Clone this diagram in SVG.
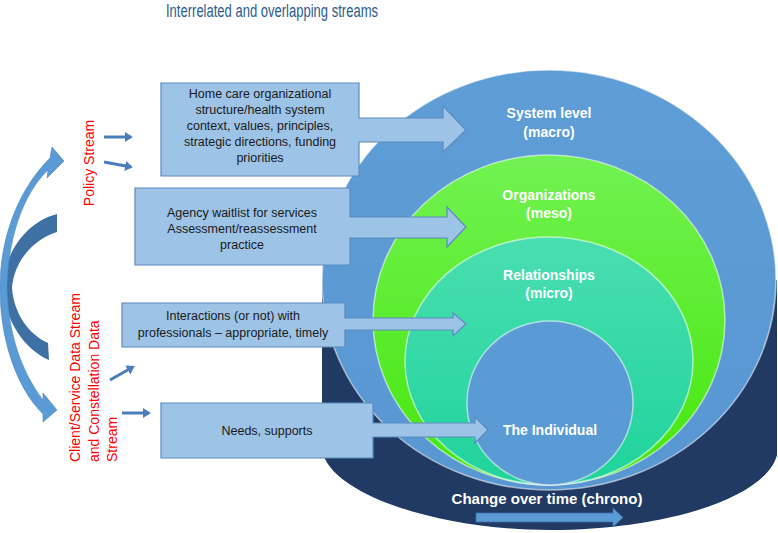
<svg xmlns="http://www.w3.org/2000/svg" width="778" height="533" viewBox="0 0 778 533">
<defs>
<style>
.title{font-family:"Liberation Sans",Arial,sans-serif;font-size:18px;fill:#2b5c8f}
.box{fill:#9dc3e6;stroke:#5a8bbd;stroke-width:1.2}
.bt{font-family:"Liberation Sans",Arial,sans-serif;font-size:12.5px;fill:#1a1a1a;text-anchor:middle}
.lbl{font-family:"Liberation Sans",Arial,sans-serif;font-size:14px;font-weight:bold;fill:#ffffff;text-anchor:middle}
.red{font-family:"Liberation Sans",Arial,sans-serif;font-size:14px;fill:#ff0000}
.sm{stroke:#4a7ebb;stroke-width:3;fill:none;marker-end:url(#ah)}
.rim{stroke:#ffffff;stroke-opacity:0.55;stroke-width:1.5}
</style>
<marker id="ah" markerWidth="4" markerHeight="4" refX="2" refY="2" orient="auto" markerUnits="strokeWidth">
<path d="M0,0.3 L2.6,2 L0,3.7 Z" fill="#4a7ebb"/>
</marker>
<linearGradient id="gGreen" x1="0" y1="0" x2="0" y2="1">
<stop offset="0" stop-color="#72f252"/>
<stop offset="1" stop-color="#45e60c"/>
</linearGradient>
<linearGradient id="gTeal" x1="0" y1="0" x2="0" y2="1">
<stop offset="0" stop-color="#4adeb1"/>
<stop offset="1" stop-color="#1fd39b"/>
</linearGradient>
<linearGradient id="gBlue" x1="0" y1="0" x2="0" y2="1">
<stop offset="0" stop-color="#5f9dd6"/>
<stop offset="1" stop-color="#5897d2"/>
</linearGradient>
</defs>

<text class="title" x="272" y="17" text-anchor="middle" textLength="212" lengthAdjust="spacingAndGlyphs">Interrelated and overlapping streams</text>

<g id="base">
<path d="M322,280 V450 C330,495 440,530 550,530 C660,530 765,500 777,455 V280 Z" fill="#213a63"/>
</g>
<g id="system">
<ellipse cx="549" cy="280" rx="227" ry="210" fill="url(#gBlue)" class="rim"/>
<text class="lbl" x="549" y="118">System level</text>
<text class="lbl" x="549" y="137">(macro)</text>
</g>
<g id="organizations">
<ellipse cx="549" cy="320" rx="176" ry="165" fill="url(#gGreen)" class="rim"/>
<text class="lbl" x="549" y="200">Organizations</text>
<text class="lbl" x="549" y="218">(meso)</text>
</g>
<g id="relationships">
<ellipse cx="549" cy="361" rx="144" ry="124" fill="url(#gTeal)" class="rim"/>
<text class="lbl" x="549" y="280">Relationships</text>
<text class="lbl" x="549" y="298">(micro)</text>
</g>
<g id="individual">
<ellipse cx="550" cy="403" rx="83" ry="82" fill="#5b9bd5" class="rim"/>
</g>

<g id="change">
<path d="M476,513 H613 V508 L623,517.5 L613,527 V522 H476 Z" fill="#5b9bd5" stroke="#3f6fa3" stroke-width="0.8"/>
<text class="lbl" x="547" y="504" style="font-size:15px">Change over time (chrono)</text>
</g>

<g id="box-policy">
<path class="box" d="M161,83 H359 V118 H443 V106 L466,130 L443,152 V142 H359 V176 H161 Z"/>
<text class="bt" x="260" y="98">Home care organizational</text>
<text class="bt" x="260" y="114">structure/health system</text>
<text class="bt" x="260" y="130">context, values, principles,</text>
<text class="bt" x="260" y="146">strategic directions, funding</text>
<text class="bt" x="260" y="162">priorities</text>
</g>
<g id="box-agency">
<path class="box" d="M135,188 H350 V217 H447 V207 L466,227 L447,247 V238 H350 V265 H135 Z"/>
<text class="bt" x="242" y="217">Agency waitlist for services</text>
<text class="bt" x="242" y="233">Assessment/reassessment</text>
<text class="bt" x="242" y="249">practice</text>
</g>
<g id="box-interactions">
<path class="box" d="M122,303 H345 V318 H453 V313 L466,324 L453,336 V330 H345 V347 H122 Z"/>
<text class="bt" x="233" y="320">Interactions (or not) with</text>
<text class="bt" x="233" y="337">professionals – appropriate, timely</text>
</g>
<g id="box-needs">
<path class="box" d="M161,403 H373 V423 H475 V417 L488,430 L475,443 V437 H373 V458 H161 Z"/>
<text class="bt" x="267" y="435">Needs, supports</text>
</g>
<g id="individual-label">
<text class="lbl" x="550" y="435">The Individual</text>
</g>

<g id="streams">
<text class="red" transform="translate(94,163) rotate(-90)" text-anchor="middle">Policy Stream</text>
<text class="red" transform="translate(80,462) rotate(-90)">Client/Service Data Stream</text>
<text class="red" transform="translate(99,462) rotate(-90)">and Constellation Data</text>
<text class="red" transform="translate(117,462) rotate(-90)">Stream</text>
</g>

<g id="connectors">
<path d="M57,214 C25,222 4,255 3,286 C4,320 25,350 49,360 L48,343 C30,335 14,315 12,288 C14,262 32,240 57,232 Z" fill="#3f70a3"/>
<path d="M50,158 L52,147 L64,161 L47,178 L48,170 C22,195 8,240 7,288 C8,330 20,370 43,400 L43,393 L57,410 L43,422 L43,414 C14,385 0,335 0,288 C0,238 18,190 50,158 Z" fill="#5b9bd5" stroke="#4a86c2" stroke-width="0.6"/>
<line class="sm" x1="104" y1="137" x2="131" y2="137"/>
<line class="sm" x1="104" y1="162" x2="131" y2="167"/>
<line class="sm" x1="110" y1="380" x2="133" y2="367"/>
<line class="sm" x1="122" y1="413" x2="149" y2="413"/>
</g>
</svg>
